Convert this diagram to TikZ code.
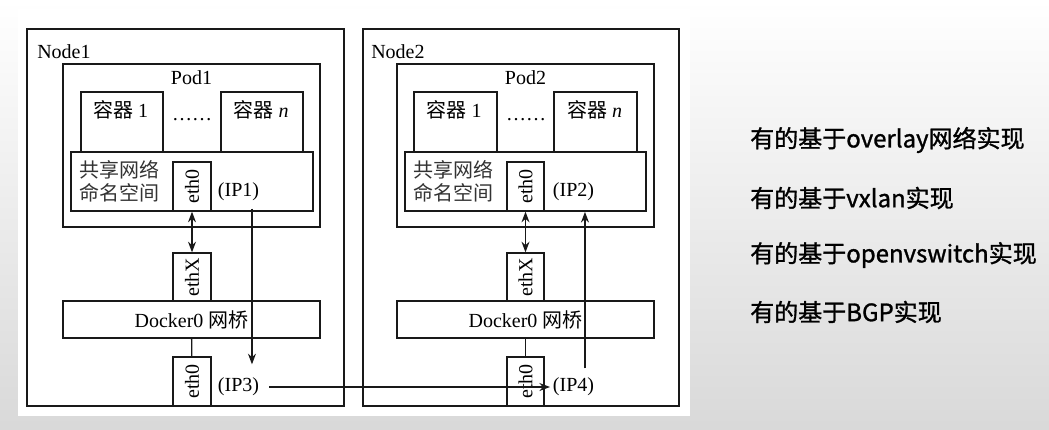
\documentclass[tikz,border=0pt]{standalone}
\usepackage{fontspec}
\setmainfont{Liberation Serif}
\newfontfamily\cjk{Noto Sans CJK SC}
\newfontfamily\cjkb[FakeBold=1.2]{Noto Sans CJK SC}
\usetikzlibrary{arrows.meta}

\begin{document}
\begin{tikzpicture}[x=0.75pt, y=-0.75pt,
            box/.style = {draw=black!90, line width=1pt, fill=white, inner sep=0pt},
            sz/.style 2 args = {minimum width=#1*0.75pt, minimum height=#2*0.75pt},
            lbl/.style = {inner sep=0pt, font=\fontsize{15}{17}\selectfont},
            ns/.style = {lbl, anchor=west, align=left, text=black!80, font=\cjk\fontsize{15}{17.25}\selectfont},
            link/.style = {line width=1pt, draw=black!90},
            arr/.style = {link, -{Stealth[length=8pt,width=6pt]}},
            darr/.style = {link, {Stealth[length=8pt,width=6pt]}-{Stealth[length=8pt,width=6pt]}},
            side/.style = {anchor=west, inner sep=0pt, font=\cjkb\fontsize{18}{20}\selectfont}]
            \useasboundingbox (0,0) rectangle (1049,429);
            \fill[top color=white, bottom color=black!15] (0,0) rectangle (1049,429);
            \fill[white] (18,9) rectangle (690,416);

            \node[box, sz={317}{377}] (n1) at (185.5,217.5) {};
            \node[lbl, anchor=west] (n1l) at (37,52) {Node1};
            \node[box, sz={257}{163}] (p1) at (191.5,145.5) {};
            \node[lbl] (p1l) at (191.5,78) {Pod1};
            \node[box, sz={82}{60}] (c1a) at (122,122) {};
            \node[lbl] (c1al) at (120.5,110) {{\cjk 容器} 1};
            \node[lbl] (d1) at (192,120) {……};
            \node[box, sz={82}{60}] (c1n) at (262,122) {};
            \node[lbl] (c1nl) at (261,110) {{\cjk 容器} \textit{n}};
            \node[box, sz={242}{59}] (s1) at (192,181.5) {};
            \node[ns] (s1l) at (79,181.5) {共享网络\\命名空间};
            \node[box, sz={38}{49}, font=\fontsize{15}{17}\selectfont] (e1) at (192,186.5) {\rotatebox{90}{eth0}};
            \node[lbl] (ip1) at (238.5,192) {(IP1)};
            \node[box, sz={38}{48}, font=\fontsize{15}{17}\selectfont] (x1) at (192,277) {\rotatebox{90}{ethX}};
            \node[box, sz={257}{37}, font=\fontsize{15}{17}\selectfont] (b1) at (191.5,319.5) {Docker0 {\cjk 网桥}};
            \node[box, sz={38}{49}, font=\fontsize{15}{17}\selectfont] (h1) at (192,381.5) {\rotatebox{90}{eth0}};
            \node[lbl] (ip3) at (238.5,387) {(IP3)};

            \node[box, sz={316}{377}] (n2) at (521,217.5) {};
            \node[lbl, anchor=west] (n2l) at (371,52) {Node2};
            \node[box, sz={257}{163}] (p2) at (525.5,145.5) {};
            \node[lbl] (p2l) at (525.5,78) {Pod2};
            \node[box, sz={83}{60}] (c2a) at (455.5,122) {};
            \node[lbl] (c2al) at (454,110) {{\cjk 容器} 1};
            \node[lbl] (d2) at (526,120) {……};
            \node[box, sz={83}{60}] (c2n) at (595.5,122) {};
            \node[lbl] (c2nl) at (594.5,110) {{\cjk 容器} \textit{n}};
            \node[box, sz={241}{59}] (s2) at (525.5,181.5) {};
            \node[ns] (s2l) at (413,181.5) {共享网络\\命名空间};
            \node[box, sz={37}{49}, font=\fontsize{15}{17}\selectfont] (e2) at (525.5,186.5) {\rotatebox{90}{eth0}};
            \node[lbl] (ip2) at (573.5,192) {(IP2)};
            \node[box, sz={37}{48}, font=\fontsize{15}{17}\selectfont] (x2) at (525.5,277) {\rotatebox{90}{ethX}};
            \node[box, sz={257}{37}, font=\fontsize{15}{17}\selectfont] (b2) at (525.5,319.5) {Docker0 {\cjk 网桥}};
            \node[box, sz={37}{49}, font=\fontsize{15}{17}\selectfont] (h2) at (525.5,381.5) {\rotatebox{90}{eth0}};
            \node[lbl] (ip4) at (573.5,387) {(IP4)};

            \draw[darr] (e1) -- (x1);
            \draw[link] (b1) -- (h1);
            \draw[darr] (e2) -- (x2);
            \draw[link] (b2) -- (h2);

            \draw[arr] ([xshift=10.1pt,yshift=-5.5pt]ip1.south) -- ([xshift=10.1pt,yshift=10pt]ip3.north);
            \draw[arr] ([xshift=7.5pt]ip3.east) -- ([xshift=-2pt]ip4.west);
            \draw[arr] ([xshift=8.6pt,yshift=7pt]ip4.north) -- ([xshift=8.6pt,yshift=-7.9pt]ip2.south);

            \node[side] (t1) at (750,140) {有的基于overlay网络实现};
            \node[side] (t2) at (750,198) {有的基于vxlan实现};
            \node[side] (t3) at (750,255) {有的基于openvswitch实现};
            \node[side] (t4) at (750,312) {有的基于BGP实现};
        \end{tikzpicture}
\end{document}
